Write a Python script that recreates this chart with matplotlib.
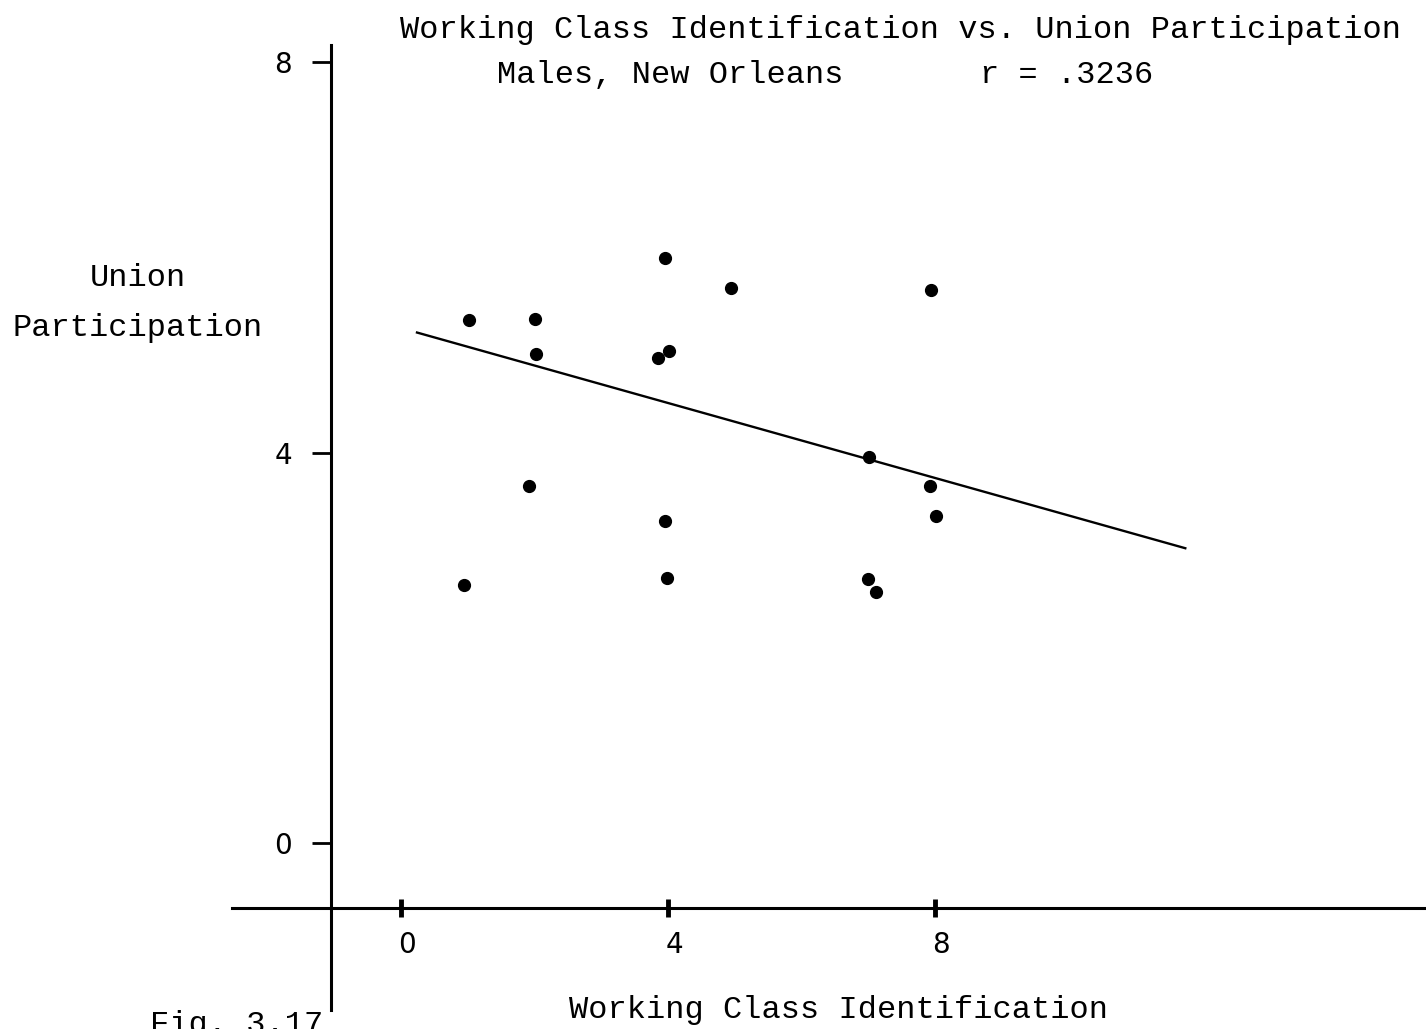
import matplotlib.pyplot as plt
import matplotlib.transforms as mtransforms
import numpy as np

# scatter data: working class identification (x) vs union participation (y)
wc_ident = [1.02, 2.01, 2.02, 3.96, 4.94, 7.94, 3.85, 4.01, 7.01,
            1.92, 7.93, 3.96, 8.01, 0.94, 3.99, 7.00, 7.12]
union_part = [5.36, 5.37, 5.01, 5.99, 5.69, 5.67, 4.97, 5.04, 3.95,
              3.66, 3.66, 3.30, 3.35, 2.64, 2.72, 2.70, 2.57]

# fitted line end points
fit_x = [0.24, 11.75]
fit_y = [5.23, 3.02]

xticks = [0, 4, 8]
yticks = [0, 4, 8]

mono = ['Liberation Mono', 'DejaVu Sans Mono']
narrow = ['Liberation Sans Narrow', 'DejaVu Sans']

fig = plt.figure(figsize=(14.26, 10.29), dpi=100)
ax = fig.add_axes([0, 0, 1, 1])
ax.set_xlim(-6.007, 15.356)
ax.set_ylim(-1.906, 8.637)

ax.plot(wc_ident, union_part, 'o', color='black', ms=8.5, mec='black')
ax.plot(fit_x, fit_y, color='black', lw=1.7)

# axes drawn as crossing spines, typewriter style
for s in ['top', 'right']:
    ax.spines[s].set_visible(False)
ax.spines['left'].set_position(('data', -1.05))
ax.spines['left'].set_bounds(-1.71, 8.18)
ax.spines['bottom'].set_position(('data', -0.67))
ax.spines['bottom'].set_bounds(-2.53, 15.36)
ax.spines['left'].set_linewidth(2.2)
ax.spines['bottom'].set_linewidth(2.2)

ax.set_xticks(xticks)
ax.set_xticklabels([str(t) for t in xticks], family=narrow, fontsize=20)
ax.set_yticks(yticks)
ax.set_yticklabels([str(t) for t in yticks], family=narrow, fontsize=20)
ax.tick_params(axis='x', direction='inout', length=13, width=3.5, pad=10)
ax.tick_params(axis='y', direction='out', length=14, width=2, pad=14)

# typed labels sit a little right of their ticks
shift = mtransforms.ScaledTranslation(6 / 100, 0, fig.dpi_scale_trans)
for lab in ax.get_xticklabels():
    lab.set_transform(lab.get_transform() + shift)

ax.text(-0.02, 8.33, 'Working Class Identification vs. Union Participation',
        family=mono, fontsize=23, ha='left', va='center')
ax.text(1.44, 7.87, 'Males, New Orleans', family=mono, fontsize=23,
        ha='left', va='center')
ax.text(8.67, 7.87, 'r = .3236', family=mono, fontsize=23,
        ha='left', va='center')
ax.text(-3.94, 5.79, 'Union', family=mono, fontsize=23,
        ha='center', va='center')
ax.text(-3.94, 5.28, 'Participation', family=mono, fontsize=23,
        ha='center', va='center')
ax.text(6.55, -1.71, 'Working Class Identification', family=mono,
        fontsize=23, ha='center', va='center')
ax.text(-3.76, -1.87, 'Fig. 3.17', family=mono, fontsize=23,
        ha='left', va='center')

fig.savefig('out.png', dpi=100)
